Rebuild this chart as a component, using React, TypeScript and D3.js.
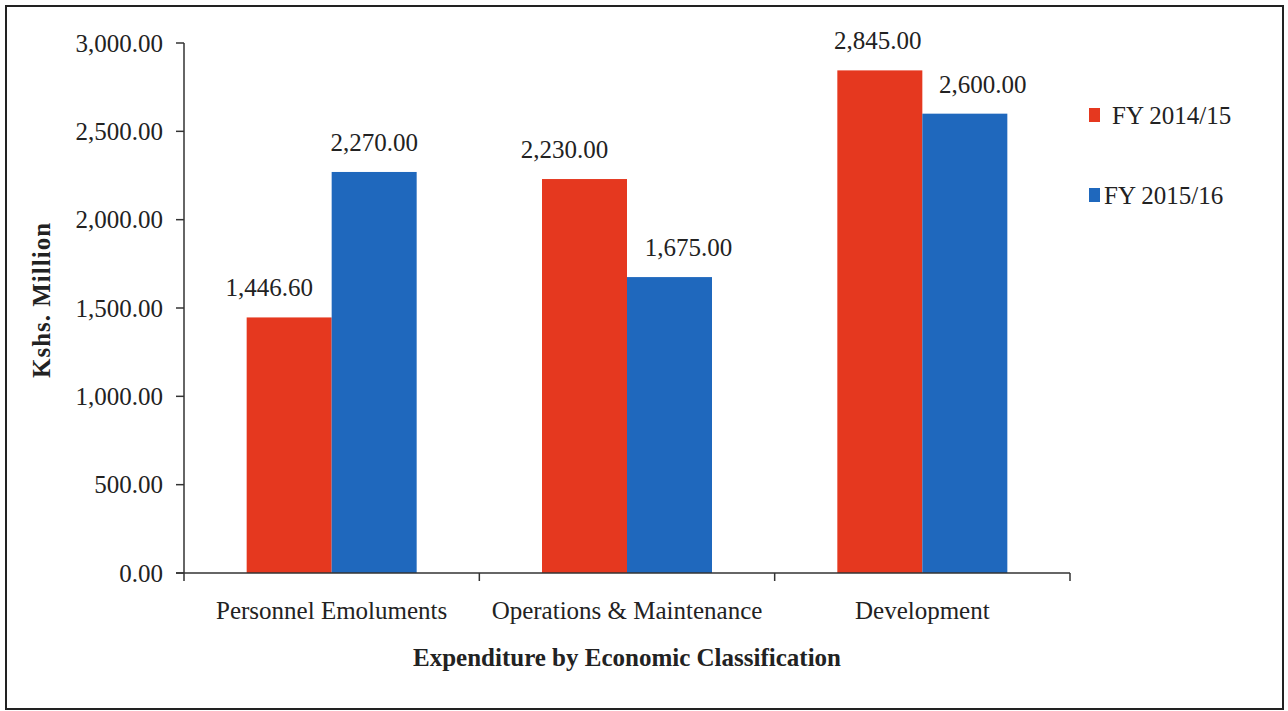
import React from "react";
import * as d3 from "d3";

const categories = ["Personnel Emoluments", "Operations & Maintenance", "Development"];
const seriesNames = ["FY 2014/15", "FY 2015/16"];
const fy1415 = [1446.6, 2230.0, 2845.0];
const fy1516 = [2270.0, 1675.0, 2600.0];
const yTicks = [0, 500, 1000, 1500, 2000, 2500, 3000];
const colors = ["#e5381f", "#1f68bd"];
// label horizontal nudges (layout only)
const labelDx = [[-20, 0], [-20, 19], [-2, 18]];

const W = 1288;
const H = 711;
const M = { left: 184, right: 1070, top: 43, bottom: 573 };
const FONT = "'Liberation Serif', 'Times New Roman', serif";
const FS = 25;

export default function App() {
  const x0 = d3.scaleBand<string>().domain(categories).range([M.left, M.right]).paddingInner(0).paddingOuter(0);
  const groupW = 170;
  const x1 = d3
    .scaleBand<string>()
    .domain(seriesNames)
    .range([0, groupW])
    .padding(0);
  const y = d3.scaleLinear().domain([0, 3000]).range([M.bottom, M.top]);
  const fmt = d3.format(",.2f");
  const series = [fy1415, fy1516];
  const boundaries = [M.left, ...categories.map((c) => (x0(c) as number) + x0.bandwidth())];

  return (
    <svg
      width={W}
      height={H}
      style={{ position: "absolute", left: 0, top: 0, background: "#fff" }}
      fontFamily={FONT}
    >
      <rect x={6} y={6} width={1277} height={703} fill="#fff" stroke="#222" strokeWidth={2} />
      {/* bars */}
      {categories.map((c, ci) => {
        const gx = (x0(c) as number) + x0.bandwidth() / 2 - groupW / 2;
        return (
          <g key={c}>
            {seriesNames.map((s, si) => {
              const v = series[si][ci];
              const bx = gx + (x1(s) as number);
              const bw = x1.bandwidth();
              return (
                <g key={s}>
                  <rect x={bx} y={y(v)} width={bw} height={y(0) - y(v)} fill={colors[si]} />
                  <text
                    x={bx + bw / 2 + labelDx[ci][si]}
                    y={y(v) - 21}
                    textAnchor="middle"
                    fontSize={FS}
                    fill="#222"
                  >
                    {fmt(v)}
                  </text>
                </g>
              );
            })}
          </g>
        );
      })}
      {/* y axis */}
      <line x1={M.left} x2={M.left} y1={M.top} y2={M.bottom} stroke="#333" strokeWidth={1.5} />
      {yTicks.map((t) => (
        <g key={t}>
          <line x1={M.left - 8} x2={M.left} y1={y(t)} y2={y(t)} stroke="#333" strokeWidth={1.5} />
          <text x={M.left - 21} y={y(t)} dy="0.35em" textAnchor="end" fontSize={FS} fill="#222">
            {fmt(t)}
          </text>
        </g>
      ))}
      {/* x axis */}
      <line x1={M.left - 8} x2={M.right} y1={M.bottom} y2={M.bottom} stroke="#333" strokeWidth={1.5} />
      {boundaries.map((b, i) => (
        <line key={i} x1={b} x2={b} y1={M.bottom} y2={M.bottom + 8} stroke="#333" strokeWidth={1.5} />
      ))}
      {categories.map((c) => (
        <text
          key={c}
          x={(x0(c) as number) + x0.bandwidth() / 2}
          y={619}
          textAnchor="middle"
          fontSize={FS}
          fill="#222"
        >
          {c}
        </text>
      ))}
      <text x={627} y={666} textAnchor="middle" fontSize={FS} fontWeight="bold" fill="#222">
        Expenditure by Economic Classification
      </text>
      <text
        transform={`translate(50,300) rotate(-90)`}
        textAnchor="middle"
        fontSize={FS}
        fontWeight="bold"
        fill="#222"
        letterSpacing={1}
      >
        Kshs. Million
      </text>
      {/* legend */}
      {seriesNames.map((s, i) => (
        <g key={s} transform={`translate(1089, ${115 + i * 80})`}>
          <rect x={0} y={-7} width={11} height={14} fill={colors[i]} />
          <text x={i === 0 ? 23 : 15} y={0} dy="0.35em" fontSize={FS} fill="#222">
            {s}
          </text>
        </g>
      ))}
    </svg>
  );
}
